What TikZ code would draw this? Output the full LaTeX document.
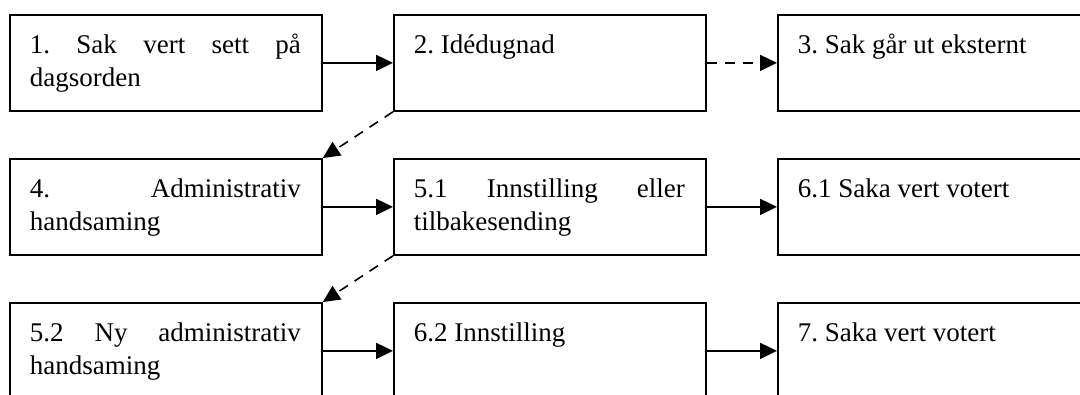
\documentclass[tikz,border=0pt]{standalone}
\usepackage{fontspec}
\setmainfont{Liberation Serif}
\usetikzlibrary{arrows.meta}
\newcommand{\boxtext}[1]{\parbox[t][96pt][t]{312pt}{\fontsize{27}{33}\selectfont\frenchspacing\leftskip=20pt\rightskip=21pt\parfillskip=0pt plus 1fil\hyphenpenalty=10000\tolerance=10000\hbadness=10000\noindent\rule{0pt}{39pt}#1}}
\begin{document}
\begin{tikzpicture}[x=1pt,y=-1pt,
  box/.style={draw, line width=1.8pt, inner sep=0pt, anchor=north west},
  flow/.style={line width=1.6pt, -{Triangle[length=17pt,width=16pt]}},
  dflow/.style={flow, dash pattern=on 10pt off 8pt}]
\fill[white] (0,0) rectangle (1080,394);
\useasboundingbox (0,0) rectangle (1080,394);
\clip (0,0) rectangle (1080,394);
\node[box] (s1) at (9,14) {\boxtext{1. Sak vert sett på\linebreak dagsorden}};
\node[box] (s2) at (393,14) {\boxtext{2. Idédugnad}};
\node[box] (s3) at (777,14) {\boxtext{3. Sak går ut eksternt}};
\node[box] (s4) at (9,158) {\boxtext{4. Administrativ\linebreak handsaming}};
\node[box] (s51) at (393,158) {\boxtext{5.1 Innstilling eller\linebreak tilbakesending}};
\node[box] (s61) at (777,158) {\boxtext{6.1 Saka vert votert}};
\node[box] (s52) at (9,302) {\boxtext{5.2 Ny administrativ\linebreak handsaming}};
\node[box] (s62) at (393,302) {\boxtext{6.2 Innstilling}};
\node[box] (s7) at (777,302) {\boxtext{7. Saka vert votert}};
\draw[flow] (s1.east) -- (s2.west);
\draw[dflow] (s2.east) -- (s3.west);
\draw[dflow] (s2.south west) -- (s4.north east);
\draw[flow] (s4.east) -- (s51.west);
\draw[flow] (s51.east) -- (s61.west);
\draw[dflow] (s51.south west) -- (s52.north east);
\draw[flow] (s52.east) -- (s62.west);
\draw[flow] (s62.east) -- (s7.west);
\end{tikzpicture}
\end{document}
